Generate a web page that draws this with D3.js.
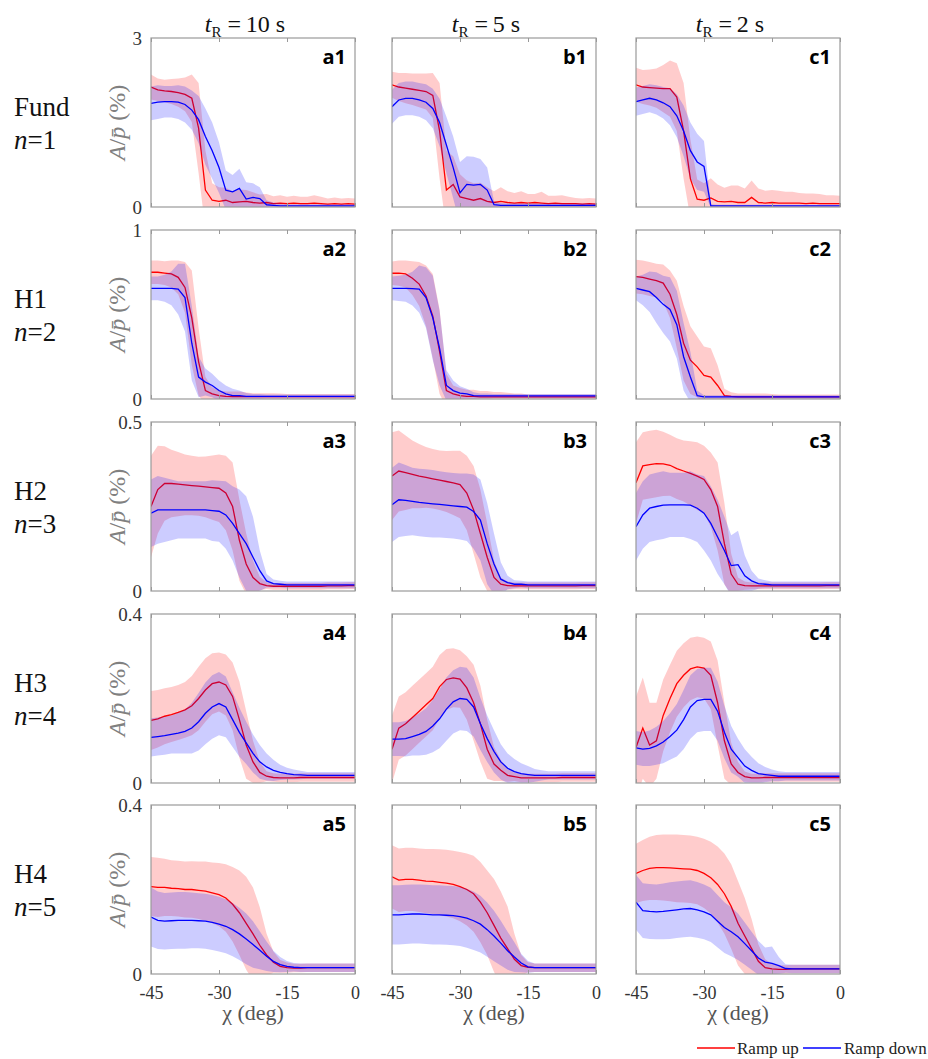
<!DOCTYPE html>
<html>
<head>
<meta charset="utf-8">
<script src="https://cdn.jsdelivr.net/npm/d3@7"></script>
<style>
  body { margin: 0; background: #fff; }
</style>
</head>
<body>
<div id="plot"></div>
<script>
// x grid (deg)
const chi = [-45,-43.5,-42,-40.5,-39,-37.5,-36,-34.5,-33,-31.5,-30,-28.5,-27,-25.5,-24,-22.5,-21,-19.5,-18,-16.5,-15,-13.5,-12,-10.5,-9,-7.5,-6,-4.5,-3,-1.5,0];
const xTicks = [-45, -30, -15, 0];
const yMax = [3, 1, 0.5, 0.4, 0.4];
const rowNames = ["Fund", "H1", "H2", "H3", "H4"];
const rowN = ["1", "2", "3", "4", "5"];
const colTimes = ["10", "5", "2"];
const colLetters = ["a", "b", "c"];
const legendLabels = ["Ramp up", "Ramp down"];

// ramp up (mean, sd) and ramp down (mean, sd) per panel
const a1_up   = [2.13,2.08,2.06,2.05,2.03,2.0,1.93,1.4,0.3,0.12, 0.1,0.12,0.08,0.09,0.1,0.08,0.07,0.08,0.06,0.07, 0.06,0.07,0.06,0.06,0.07,0.06,0.05,0.06,0.05,0.06, 0.05];
const a1_upSd = [0.22,0.2,0.2,0.22,0.25,0.3,0.42,0.8,0.7,0.3, 0.25,0.22,0.2,0.22,0.2,0.18,0.15,0.15,0.13,0.14, 0.12,0.13,0.12,0.12,0.14,0.12,0.1,0.11,0.1,0.1, 0.1];
const a1_dn   = [1.84,1.86,1.87,1.87,1.86,1.82,1.72,1.55,1.25,1.0, 0.7,0.3,0.27,0.33,0.14,0.17,0.15,0.04,0.03,0.02, 0.02,0.02,0.02,0.02,0.02,0.02,0.02,0.02,0.02,0.02, 0.02];
const a1_dnSd = [0.3,0.3,0.28,0.28,0.3,0.32,0.35,0.42,0.5,0.5, 0.45,0.35,0.3,0.35,0.3,0.25,0.2,0.08,0.05,0.04, 0.03,0.03,0.03,0.03,0.03,0.03,0.03,0.03,0.03,0.03, 0.03];

const a2_up   = [0.75,0.75,0.745,0.74,0.72,0.66,0.48,0.22,0.05,0.03, 0.02,0.015,0.014,0.014,0.014,0.014,0.014,0.014,0.014,0.014, 0.014,0.014,0.014,0.014,0.014,0.014,0.014,0.014,0.014,0.014, 0.014];
const a2_upSd = [0.07,0.07,0.07,0.08,0.1,0.15,0.28,0.2,0.08,0.04, 0.03,0.03,0.03,0.03,0.025,0.02,0.02,0.02,0.02,0.018, 0.015,0.015,0.015,0.015,0.015,0.015,0.015,0.015,0.015,0.015, 0.015];
const a2_dn   = [0.655,0.655,0.655,0.655,0.65,0.6,0.33,0.13,0.1,0.08, 0.05,0.03,0.02,0.02,0.015,0.015,0.015,0.015,0.015,0.015, 0.015,0.015,0.015,0.015,0.015,0.015,0.015,0.015,0.015,0.015, 0.015];
const a2_dnSd = [0.07,0.07,0.08,0.1,0.15,0.2,0.22,0.12,0.08,0.07, 0.06,0.05,0.04,0.03,0.02,0.015,0.015,0.012,0.012,0.012, 0.012,0.012,0.012,0.012,0.012,0.012,0.012,0.012,0.012,0.012, 0.012];

const a3_up   = [0.25,0.3,0.318,0.318,0.316,0.314,0.312,0.31,0.308,0.306, 0.304,0.29,0.25,0.15,0.08,0.04,0.022,0.016,0.014,0.014, 0.014,0.014,0.014,0.014,0.014,0.014,0.015,0.015,0.015,0.016, 0.016];
const a3_upSd = [0.15,0.13,0.11,0.1,0.095,0.09,0.088,0.087,0.09,0.095, 0.1,0.11,0.13,0.12,0.09,0.05,0.02,0.01,0.01,0.01, 0.01,0.01,0.01,0.01,0.01,0.01,0.01,0.01,0.01,0.01, 0.01];
const a3_dn   = [0.23,0.24,0.24,0.24,0.24,0.24,0.24,0.24,0.24,0.238, 0.236,0.225,0.2,0.17,0.14,0.1,0.06,0.03,0.022,0.02, 0.018,0.018,0.018,0.018,0.018,0.018,0.018,0.018,0.018,0.018, 0.018];
const a3_dnSd = [0.1,0.1,0.095,0.09,0.085,0.085,0.085,0.085,0.085,0.09, 0.09,0.1,0.11,0.13,0.14,0.12,0.06,0.02,0.012,0.01, 0.01,0.01,0.01,0.01,0.01,0.01,0.01,0.01,0.01,0.01, 0.01];

const a4_up   = [0.148,0.152,0.158,0.162,0.167,0.173,0.183,0.2,0.22,0.235, 0.239,0.232,0.205,0.15,0.09,0.05,0.025,0.016,0.013,0.012, 0.012,0.012,0.013,0.013,0.013,0.013,0.013,0.013,0.013,0.013, 0.013];
const a4_upSd = [0.07,0.068,0.066,0.065,0.065,0.066,0.07,0.075,0.075,0.072, 0.07,0.072,0.08,0.09,0.08,0.05,0.025,0.012,0.01,0.01, 0.01,0.01,0.01,0.01,0.01,0.01,0.01,0.01,0.01,0.01, 0.01];
const a4_dn   = [0.108,0.11,0.112,0.115,0.118,0.122,0.13,0.145,0.165,0.18, 0.188,0.18,0.15,0.12,0.095,0.07,0.05,0.038,0.03,0.025, 0.022,0.02,0.019,0.018,0.018,0.018,0.018,0.018,0.018,0.018, 0.018];
const a4_dnSd = [0.045,0.045,0.045,0.045,0.048,0.052,0.06,0.068,0.073,0.075, 0.075,0.072,0.065,0.058,0.05,0.045,0.04,0.032,0.025,0.018, 0.014,0.012,0.01,0.008,0.008,0.008,0.008,0.008,0.008,0.008, 0.008];

const a5_up   = [0.207,0.205,0.205,0.203,0.202,0.2,0.2,0.198,0.196,0.192, 0.188,0.18,0.165,0.145,0.12,0.095,0.068,0.045,0.028,0.018, 0.015,0.014,0.014,0.015,0.015,0.015,0.015,0.015,0.015,0.015, 0.015];
const a5_upSd = [0.07,0.07,0.068,0.066,0.066,0.066,0.067,0.068,0.07,0.072, 0.075,0.08,0.088,0.1,0.11,0.11,0.09,0.05,0.025,0.015, 0.012,0.01,0.01,0.01,0.01,0.01,0.01,0.01,0.01,0.01, 0.01];
const a5_dn   = [0.135,0.127,0.125,0.126,0.127,0.127,0.127,0.126,0.125,0.122, 0.118,0.113,0.105,0.095,0.083,0.07,0.056,0.042,0.03,0.022, 0.018,0.016,0.015,0.015,0.015,0.015,0.015,0.015,0.015,0.015, 0.015];
const a5_dnSd = [0.07,0.068,0.067,0.067,0.067,0.067,0.066,0.065,0.065,0.065, 0.065,0.064,0.063,0.062,0.06,0.055,0.045,0.035,0.025,0.018, 0.013,0.01,0.01,0.01,0.01,0.01,0.01,0.01,0.01,0.01, 0.01];

const b1_up   = [2.17,2.13,2.11,2.09,2.07,2.05,1.98,1.35,0.3,0.4, 0.18,0.15,0.12,0.15,0.1,0.08,0.1,0.08,0.07,0.08, 0.07,0.08,0.07,0.06,0.07,0.06,0.06,0.06,0.05,0.06, 0.05];
const b1_upSd = [0.23,0.25,0.27,0.28,0.3,0.32,0.4,0.85,0.7,0.5, 0.4,0.32,0.3,0.28,0.25,0.2,0.25,0.2,0.18,0.2, 0.16,0.15,0.2,0.14,0.13,0.15,0.12,0.1,0.1,0.1, 0.1];
const b1_dn   = [1.78,1.9,1.93,1.93,1.9,1.86,1.75,1.5,1.1,0.7, 0.25,0.4,0.39,0.4,0.3,0.04,0.03,0.03,0.03,0.03, 0.03,0.03,0.03,0.03,0.03,0.03,0.03,0.03,0.03,0.03, 0.03];
const b1_dnSd = [0.3,0.3,0.3,0.3,0.3,0.32,0.35,0.42,0.5,0.55, 0.55,0.5,0.5,0.45,0.4,0.06,0.04,0.03,0.03,0.03, 0.03,0.03,0.03,0.03,0.03,0.03,0.03,0.03,0.03,0.03, 0.03];

const b2_up   = [0.744,0.745,0.74,0.715,0.68,0.61,0.49,0.28,0.05,0.03, 0.02,0.015,0.015,0.012,0.012,0.012,0.012,0.012,0.012,0.012, 0.012,0.012,0.012,0.012,0.012,0.012,0.012,0.012,0.012,0.012, 0.012];
const b2_upSd = [0.07,0.075,0.08,0.1,0.13,0.18,0.25,0.25,0.1,0.05, 0.045,0.04,0.04,0.035,0.035,0.03,0.03,0.025,0.02,0.02, 0.015,0.015,0.015,0.015,0.015,0.015,0.015,0.015,0.015,0.015, 0.015];
const b2_dn   = [0.655,0.655,0.655,0.653,0.65,0.6,0.48,0.3,0.08,0.05, 0.035,0.03,0.02,0.018,0.018,0.018,0.018,0.018,0.018,0.018, 0.018,0.018,0.018,0.018,0.018,0.018,0.018,0.018,0.018,0.018, 0.018];
const b2_dnSd = [0.07,0.075,0.08,0.1,0.14,0.18,0.25,0.22,0.09,0.06, 0.04,0.03,0.02,0.015,0.015,0.012,0.012,0.012,0.012,0.012, 0.012,0.012,0.012,0.012,0.012,0.012,0.012,0.012,0.012,0.012, 0.012];

const b3_up   = [0.34,0.355,0.35,0.345,0.34,0.336,0.332,0.328,0.324,0.32, 0.315,0.29,0.24,0.17,0.1,0.04,0.02,0.016,0.015,0.015, 0.015,0.015,0.015,0.015,0.015,0.015,0.015,0.015,0.016,0.016, 0.016];
const b3_upSd = [0.13,0.12,0.11,0.1,0.095,0.09,0.088,0.088,0.09,0.095, 0.1,0.11,0.13,0.13,0.1,0.05,0.02,0.012,0.01,0.01, 0.01,0.01,0.01,0.01,0.01,0.01,0.01,0.01,0.01,0.01, 0.01];
const b3_dn   = [0.255,0.27,0.268,0.265,0.262,0.26,0.258,0.256,0.254,0.252, 0.25,0.248,0.235,0.21,0.14,0.08,0.035,0.025,0.02,0.02, 0.018,0.018,0.018,0.018,0.018,0.018,0.018,0.018,0.018,0.018, 0.018];
const b3_dnSd = [0.11,0.11,0.105,0.1,0.1,0.1,0.1,0.098,0.097,0.097, 0.098,0.1,0.11,0.12,0.12,0.09,0.05,0.02,0.012,0.01, 0.01,0.01,0.01,0.01,0.01,0.01,0.01,0.01,0.01,0.01, 0.01];

const b4_up   = [0.08,0.13,0.14,0.155,0.17,0.185,0.2,0.228,0.245,0.249, 0.246,0.225,0.19,0.14,0.08,0.045,0.03,0.018,0.015,0.012, 0.012,0.012,0.012,0.012,0.012,0.013,0.013,0.013,0.013,0.013, 0.013];
const b4_upSd = [0.08,0.075,0.075,0.075,0.075,0.075,0.075,0.075,0.072,0.07, 0.068,0.075,0.09,0.09,0.07,0.04,0.025,0.015,0.01,0.01, 0.01,0.01,0.01,0.01,0.01,0.01,0.01,0.01,0.01,0.01, 0.01];
const b4_dn   = [0.104,0.104,0.105,0.11,0.115,0.122,0.135,0.152,0.175,0.192, 0.2,0.198,0.18,0.14,0.105,0.075,0.05,0.035,0.027,0.022, 0.02,0.018,0.018,0.018,0.018,0.018,0.018,0.018,0.018,0.018, 0.018];
const b4_dnSd = [0.04,0.04,0.042,0.045,0.05,0.055,0.062,0.07,0.075,0.075, 0.075,0.075,0.07,0.062,0.055,0.05,0.042,0.035,0.03,0.025, 0.02,0.015,0.012,0.01,0.01,0.01,0.01,0.01,0.01,0.01, 0.01];

const b5_up   = [0.23,0.222,0.224,0.224,0.222,0.22,0.219,0.217,0.215,0.212, 0.207,0.2,0.19,0.17,0.145,0.115,0.085,0.06,0.035,0.02, 0.016,0.015,0.015,0.015,0.015,0.015,0.015,0.015,0.015,0.015, 0.015];
const b5_upSd = [0.075,0.075,0.075,0.075,0.075,0.076,0.077,0.078,0.079,0.08, 0.082,0.085,0.09,0.095,0.1,0.11,0.11,0.1,0.06,0.025, 0.012,0.01,0.01,0.01,0.01,0.01,0.01,0.01,0.01,0.01, 0.01];
const b5_dn   = [0.14,0.14,0.141,0.142,0.142,0.141,0.14,0.14,0.139,0.138, 0.136,0.132,0.126,0.118,0.105,0.09,0.073,0.055,0.04,0.026, 0.017,0.015,0.015,0.015,0.015,0.015,0.015,0.015,0.015,0.015, 0.015];
const b5_dnSd = [0.07,0.07,0.07,0.07,0.07,0.07,0.07,0.07,0.07,0.07, 0.07,0.07,0.069,0.067,0.064,0.06,0.053,0.045,0.035,0.022, 0.014,0.01,0.01,0.01,0.01,0.01,0.01,0.01,0.01,0.01, 0.01];

const c1_up   = [2.17,2.13,2.12,2.11,2.1,2.1,1.95,1.35,0.5,0.14, 0.12,0.16,0.1,0.09,0.1,0.08,0.08,0.17,0.08,0.07, 0.08,0.07,0.07,0.07,0.07,0.06,0.07,0.06,0.06,0.06, 0.06];
const c1_upSd = [0.3,0.3,0.32,0.35,0.42,0.5,0.6,0.85,0.7,0.35, 0.3,0.35,0.3,0.25,0.28,0.3,0.25,0.3,0.25,0.22, 0.22,0.22,0.2,0.2,0.18,0.18,0.17,0.17,0.15,0.15, 0.14];
const c1_dn   = [1.87,1.9,1.93,1.9,1.85,1.78,1.62,1.35,1.0,0.8, 0.72,0.02,0.02,0.02,0.02,0.02,0.02,0.02,0.02,0.02, 0.02,0.02,0.02,0.02,0.02,0.02,0.02,0.02,0.02,0.02, 0.02];
const c1_dnSd = [0.25,0.25,0.25,0.26,0.28,0.33,0.38,0.45,0.5,0.5, 0.45,0.03,0.02,0.02,0.02,0.02,0.02,0.02,0.02,0.02, 0.02,0.02,0.02,0.02,0.02,0.02,0.02,0.02,0.02,0.02, 0.02];

const c2_up   = [0.724,0.72,0.71,0.7,0.686,0.62,0.5,0.33,0.23,0.19, 0.14,0.13,0.08,0.02,0.015,0.012,0.012,0.012,0.012,0.012, 0.012,0.012,0.012,0.012,0.012,0.012,0.012,0.012,0.012,0.012, 0.012];
const c2_upSd = [0.1,0.1,0.1,0.1,0.11,0.14,0.2,0.22,0.2,0.18, 0.17,0.17,0.12,0.04,0.025,0.02,0.02,0.02,0.02,0.02, 0.018,0.015,0.015,0.015,0.015,0.015,0.015,0.015,0.015,0.015, 0.015];
const c2_dn   = [0.655,0.645,0.635,0.6,0.56,0.53,0.44,0.25,0.13,0.02, 0.012,0.012,0.012,0.012,0.012,0.012,0.012,0.012,0.012,0.012, 0.012,0.012,0.012,0.012,0.012,0.012,0.012,0.012,0.012,0.012, 0.012];
const c2_dnSd = [0.07,0.09,0.12,0.15,0.17,0.19,0.2,0.2,0.15,0.03, 0.01,0.01,0.01,0.01,0.01,0.01,0.01,0.01,0.01,0.01, 0.01,0.01,0.01,0.01,0.01,0.01,0.01,0.01,0.01,0.01, 0.01];

const c3_up   = [0.32,0.37,0.374,0.377,0.376,0.372,0.362,0.355,0.348,0.34, 0.33,0.3,0.25,0.14,0.05,0.02,0.016,0.015,0.015,0.015, 0.015,0.015,0.015,0.015,0.015,0.015,0.015,0.015,0.016,0.016, 0.016];
const c3_upSd = [0.12,0.1,0.1,0.1,0.095,0.09,0.09,0.09,0.095,0.1, 0.1,0.11,0.13,0.12,0.06,0.02,0.012,0.01,0.01,0.01, 0.01,0.01,0.01,0.01,0.01,0.01,0.01,0.01,0.01,0.01, 0.01];
const c3_dn   = [0.19,0.225,0.245,0.25,0.254,0.255,0.255,0.255,0.254,0.245, 0.23,0.2,0.16,0.12,0.075,0.078,0.045,0.03,0.022,0.02, 0.018,0.018,0.018,0.018,0.018,0.018,0.018,0.018,0.018,0.018, 0.018];
const c3_dnSd = [0.1,0.1,0.1,0.1,0.1,0.095,0.095,0.095,0.1,0.1, 0.11,0.11,0.11,0.1,0.09,0.1,0.06,0.03,0.015,0.012, 0.01,0.01,0.01,0.01,0.01,0.01,0.01,0.01,0.01,0.01, 0.01];

const c4_up   = [0.084,0.13,0.09,0.1,0.16,0.2,0.235,0.255,0.27,0.275, 0.272,0.255,0.19,0.1,0.045,0.025,0.015,0.012,0.012,0.013, 0.013,0.013,0.013,0.013,0.013,0.013,0.013,0.013,0.013,0.013, 0.013];
const c4_upSd = [0.12,0.12,0.1,0.09,0.085,0.08,0.078,0.076,0.074,0.072, 0.072,0.08,0.1,0.09,0.05,0.025,0.012,0.01,0.01,0.01, 0.01,0.01,0.01,0.01,0.01,0.01,0.01,0.01,0.01,0.01, 0.01];
const c4_dn   = [0.083,0.08,0.082,0.088,0.097,0.11,0.125,0.15,0.18,0.195, 0.198,0.198,0.17,0.12,0.08,0.06,0.04,0.03,0.022,0.02, 0.018,0.016,0.016,0.016,0.016,0.016,0.016,0.016,0.016,0.016, 0.016];
const c4_dnSd = [0.04,0.04,0.042,0.045,0.05,0.055,0.062,0.07,0.075,0.075, 0.075,0.075,0.07,0.062,0.055,0.045,0.04,0.032,0.025,0.018, 0.014,0.012,0.01,0.01,0.01,0.01,0.01,0.01,0.01,0.01, 0.01];

const c5_up   = [0.238,0.245,0.25,0.252,0.252,0.251,0.25,0.249,0.248,0.245, 0.238,0.228,0.212,0.19,0.16,0.12,0.09,0.06,0.03,0.015, 0.012,0.011,0.011,0.012,0.012,0.012,0.012,0.012,0.012,0.012, 0.012];
const c5_upSd = [0.07,0.072,0.075,0.077,0.078,0.079,0.08,0.08,0.08,0.08, 0.082,0.085,0.09,0.095,0.1,0.1,0.09,0.07,0.04,0.02, 0.012,0.01,0.01,0.01,0.01,0.01,0.01,0.01,0.01,0.01, 0.01];
const c5_dn   = [0.17,0.15,0.148,0.147,0.148,0.15,0.152,0.154,0.155,0.152, 0.147,0.14,0.125,0.11,0.1,0.088,0.072,0.055,0.038,0.028, 0.025,0.02,0.013,0.012,0.012,0.012,0.012,0.012,0.012,0.012, 0.012];
const c5_dnSd = [0.065,0.065,0.065,0.065,0.066,0.067,0.067,0.067,0.067,0.066, 0.065,0.064,0.062,0.06,0.058,0.055,0.05,0.045,0.04,0.035, 0.04,0.02,0.01,0.01,0.01,0.01,0.01,0.01,0.01,0.01, 0.01];

const panels = {
  a1: [a1_up, a1_upSd, a1_dn, a1_dnSd], b1: [b1_up, b1_upSd, b1_dn, b1_dnSd], c1: [c1_up, c1_upSd, c1_dn, c1_dnSd],
  a2: [a2_up, a2_upSd, a2_dn, a2_dnSd], b2: [b2_up, b2_upSd, b2_dn, b2_dnSd], c2: [c2_up, c2_upSd, c2_dn, c2_dnSd],
  a3: [a3_up, a3_upSd, a3_dn, a3_dnSd], b3: [b3_up, b3_upSd, b3_dn, b3_dnSd], c3: [c3_up, c3_upSd, c3_dn, c3_dnSd],
  a4: [a4_up, a4_upSd, a4_dn, a4_dnSd], b4: [b4_up, b4_upSd, b4_dn, b4_dnSd], c4: [c4_up, c4_upSd, c4_dn, c4_dnSd],
  a5: [a5_up, a5_upSd, a5_dn, a5_dnSd], b5: [b5_up, b5_upSd, b5_dn, b5_dnSd], c5: [c5_up, c5_upSd, c5_dn, c5_dnSd]
};

// layout
const colLeft = [151, 392, 636],
    rowTop = [38, 230, 422, 614, 805],
    pw = 204, ph = 169;
const upColor = "#ff0000", dnColor = "#0000ff", boxColor = "#9a9a9a";
const serif = "'Liberation Serif', 'Times New Roman', Times, serif";
const sans = "'Open Sans', 'Liberation Sans', sans-serif";

const svg = d3.select("#plot")
    .append("svg")
    .attr("width", 928)
    .attr("height", 1059);

const x = d3.scaleLinear().domain([-45, 0]).range([0, pw]);

rowNames.forEach((rn, r) => {
    const y = d3.scaleLinear().domain([0, yMax[r]]).range([ph, 0]);

    // row label
    const rl = svg.append("text")
        .style("font-family", serif)
        .attr("font-size", 27)
        .attr("fill", "#111");
    rl.append("tspan").attr("x", 14).attr("y", rowTop[r] + 78).text(rn);
    const n2 = rl.append("tspan").attr("x", 14).attr("y", rowTop[r] + 111);
    n2.append("tspan").attr("font-style", "italic").text("n");
    n2.append("tspan").text("=" + rowN[r]);

    colLetters.forEach((cl, c) => {
        const id = cl + (r + 1);
        const [up, upSd, dn, dnSd] = panels[id];
        const g = svg.append("g")
            .attr("transform", "translate(" + colLeft[c] + "," + rowTop[r] + ")");

        g.append("clipPath").attr("id", "clip-" + id)
            .append("rect").attr("width", pw).attr("height", ph);
        const plot = g.append("g").attr("clip-path", "url(#clip-" + id + ")");

        const band = (m, s) => d3.area()
            .x((d, i) => x(chi[i]))
            .y0((d, i) => y(m[i] - s[i]))
            .y1((d, i) => y(m[i] + s[i]));
        const line = m => d3.line()
            .x((d, i) => x(chi[i]))
            .y((d, i) => y(m[i]));

        // ramp up first, then ramp down on top
        plot.append("path").datum(up)
            .attr("d", band(up, upSd))
            .attr("fill", upColor).attr("fill-opacity", 0.2);
        plot.append("path").datum(up)
            .attr("d", line(up))
            .attr("fill", "none").attr("stroke", upColor).attr("stroke-width", 1.3);
        plot.append("path").datum(dn)
            .attr("d", band(dn, dnSd))
            .attr("fill", dnColor).attr("fill-opacity", 0.2);
        plot.append("path").datum(dn)
            .attr("d", line(dn))
            .attr("fill", "none").attr("stroke", dnColor).attr("stroke-width", 1.3);

        // ticks (inward, top and bottom)
        const bottom = g.append("g")
            .attr("transform", "translate(0," + ph + ")")
            .call(d3.axisBottom(x).tickValues(xTicks).tickSizeInner(-4).tickSizeOuter(0)
                .tickPadding(12).tickFormat(r === 4 ? (d => String(d)) : ""));
        const top = g.append("g")
            .call(d3.axisTop(x).tickValues(xTicks).tickSizeInner(-4).tickSizeOuter(0).tickFormat(""));
        [bottom, top].forEach(a => {
            a.select(".domain").remove();
            a.selectAll(".tick line").attr("stroke", boxColor);
            a.selectAll("text")
                .style("font-family", serif)
                .style("font-size", "18px")
                .attr("fill", "#333");
        });

        if (c === 0) {
            const left = g.append("g")
                .call(d3.axisLeft(y).tickValues([0, yMax[r]]).tickSize(0).tickPadding(9)
                    .tickFormat(d => String(d)));
            left.select(".domain").remove();
            left.selectAll("text")
                .style("font-family", serif)
                .style("font-size", "19px")
                .attr("fill", "#333");

            // y label
            const yl = g.append("text")
                .attr("transform", "translate(-26," + (ph / 2) + ") rotate(-90)")
                .attr("text-anchor", "middle")
                .style("font-family", serif)
                .attr("font-size", 24)
                .attr("fill", "#808080");
            yl.append("tspan").attr("font-style", "italic").text("A");
            yl.append("tspan").text("/");
            yl.append("tspan").attr("font-style", "italic").text("p\u0304");
            yl.append("tspan").text(" (%)");
        }

        // box
        g.append("rect")
            .attr("width", pw).attr("height", ph)
            .attr("fill", "none").attr("stroke", boxColor).attr("stroke-width", 1.2);

        // panel label
        g.append("text")
            .attr("x", pw - 9).attr("y", 26)
            .attr("text-anchor", "end")
            .style("font-family", sans)
            .attr("font-size", 20)
            .attr("font-weight", "bold")
            .attr("fill", "#000")
            .text(id);

        // x label on last row
        if (r === 4) {
            g.append("text")
                .attr("x", pw / 2).attr("y", ph + 46)
                .attr("text-anchor", "middle")
                .style("font-family", serif)
                .attr("font-size", 22)
                .attr("fill", "#555")
                .text("\u03c7 (deg)");
        }
    });
});

// column titles
colTimes.forEach((t, c) => {
    const tt = svg.append("text")
        .attr("x", colLeft[c] + pw / 2 - 8).attr("y", 32)
        .attr("text-anchor", "middle")
        .style("font-family", serif)
        .attr("font-size", 24)
        .attr("fill", "#111");
    tt.append("tspan").attr("font-style", "italic").text("t");
    tt.append("tspan").attr("font-size", 15).attr("dy", 5).text("R");
    tt.append("tspan").attr("dy", -5).text(" =\u2009" + t + " s");
});

// legend
const legX = [697, 803], legTextX = [737, 844];
legendLabels.forEach((lab, i) => {
    svg.append("line")
        .attr("x1", legX[i]).attr("x2", legX[i] + 38)
        .attr("y1", 1048).attr("y2", 1048)
        .attr("stroke", i === 0 ? upColor : dnColor)
        .attr("stroke-width", 1.3);
    svg.append("text")
        .attr("x", legTextX[i]).attr("y", 1054)
        .style("font-family", serif)
        .attr("font-size", 17)
        .attr("fill", "#222")
        .text(lab);
});
</script>
</body>
</html>
